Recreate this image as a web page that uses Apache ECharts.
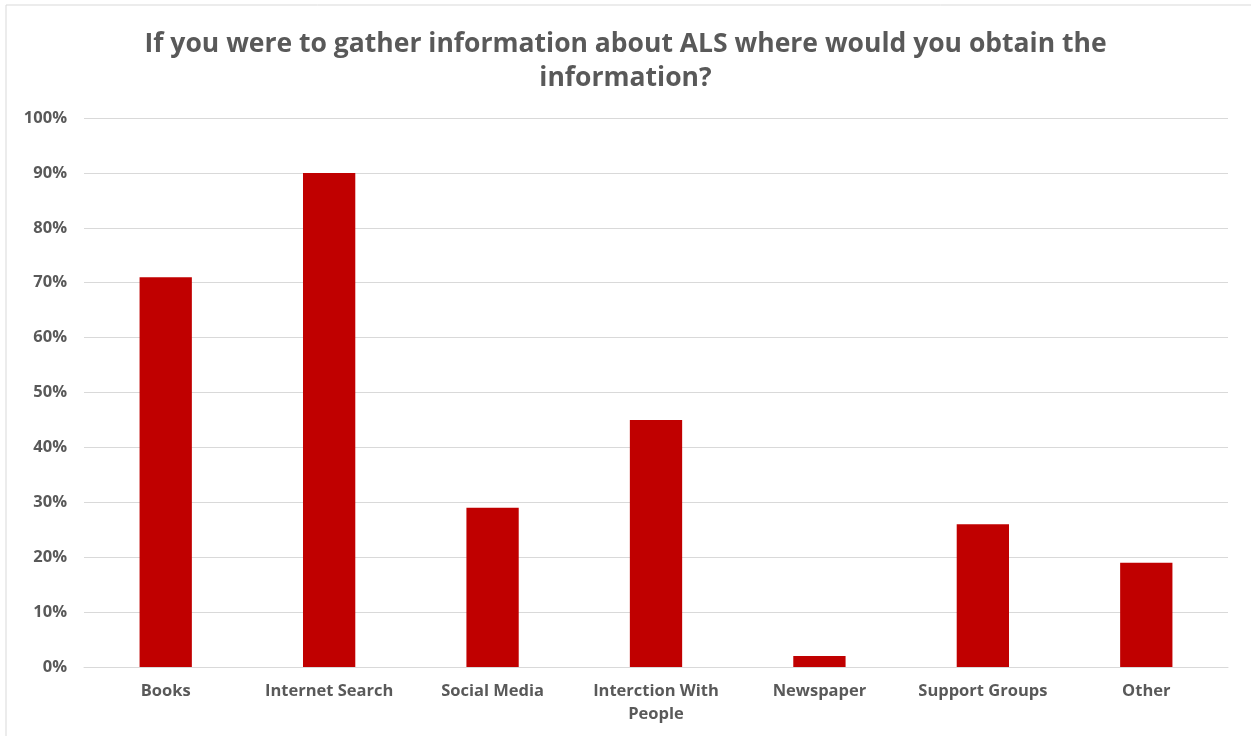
<!DOCTYPE html>
<html><head><meta charset="utf-8">
<script src="https://cdn.jsdelivr.net/npm/echarts@6/dist/echarts.min.js"></script>
<style>html,body{margin:0;padding:0;background:#fff}#c{width:1251px;height:736px}</style>
</head><body><div id="c"></div>
<script>
const categories = ['Books','Internet Search','Social Media','Interction With\nPeople','Newspaper','Support Groups','Other'];
const values = [71, 90, 29, 45, 2, 26, 19];
const titleText = 'If you were to gather information about ALS where would you obtain the\ninformation?';

const chart = echarts.init(document.getElementById('c'));
chart.setOption({
  backgroundColor: '#fff',
  animation: false,
  title: {
    text: titleText, left: 'center', top: 22,
    textStyle: { fontFamily: 'Open Sans', fontWeight: 'bold', fontSize: 26.5, color: '#595959', lineHeight: 34 }
  },
  graphic: [{ type: 'rect', shape: { x: 6, y: 5, width: 1260, height: 750 }, style: { fill: 'none', stroke: '#d9d9d9', lineWidth: 1 } }],
  grid: { left: 84, right: 23, top: 118, bottom: 69 },
  xAxis: {
    type: 'category', data: categories,
    axisLine: { lineStyle: { color: '#d9d9d9', width: 1 } },
    axisTick: { show: false },
    axisLabel: { color: '#595959', fontFamily: 'Open Sans', fontWeight: 'bold', fontSize: 16.5, margin: 13, lineHeight: 23, interval: 0 }
  },
  yAxis: {
    type: 'value', min: 0, max: 100, interval: 10,
    axisLabel: { formatter: '{value}%', color: '#595959', fontFamily: 'Open Sans', fontWeight: 'bold', fontSize: 16.5, margin: 17 },
    splitLine: { lineStyle: { color: '#d9d9d9', width: 1 } },
    axisLine: { show: false }, axisTick: { show: false }
  },
  series: [{
    type: 'bar', data: values, barWidth: '32%',
    itemStyle: { color: '#c00000' }
  }]
});
</script></body></html>
